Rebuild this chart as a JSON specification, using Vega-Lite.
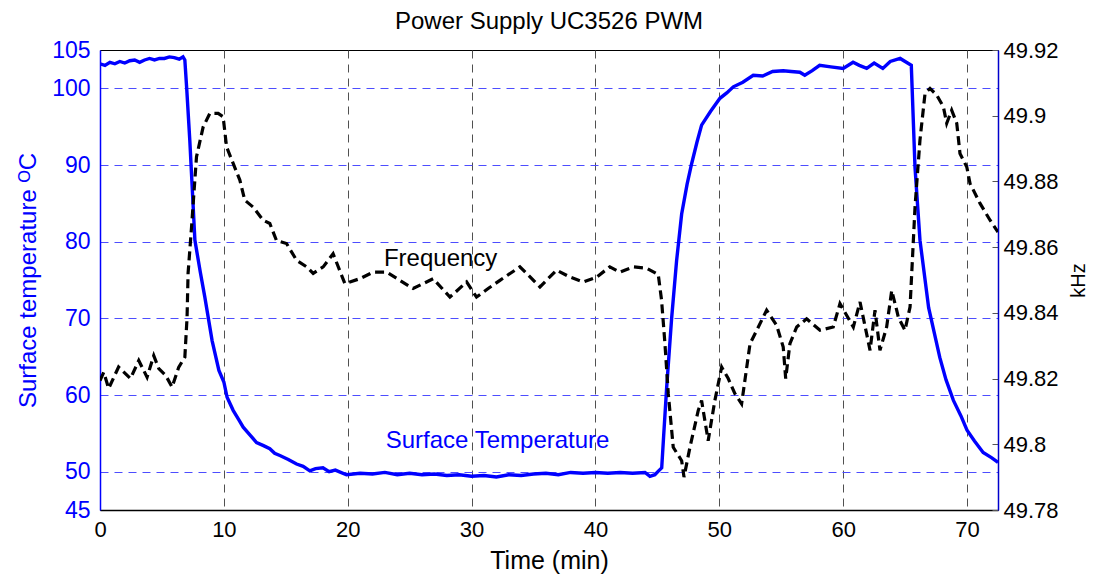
{
  "$schema": "https://vega.github.io/schema/vega-lite/v6.json",
  "width": 898,
  "height": 460,
  "autosize": "none",
  "padding": {"left": 100, "top": 50, "right": 95, "bottom": 65},
  "background": "white",
  "title": {"text": "Power Supply UC3526 PWM", "fontSize": 24, "fontWeight": "normal", "font": "Liberation Sans", "color": "black", "offset": 5, "anchor": "middle"},
  "datasets": {
    "temp": [
      {"t": 0, "T": 103.2}, {"t": 0.4, "T": 103.0}, {"t": 0.8, "T": 103.4}, {"t": 1.2, "T": 103.2}, {"t": 1.6, "T": 103.5},
      {"t": 2.0, "T": 103.3}, {"t": 2.4, "T": 103.6}, {"t": 2.8, "T": 103.7}, {"t": 3.2, "T": 103.4}, {"t": 3.6, "T": 103.7},
      {"t": 4.0, "T": 103.9}, {"t": 4.4, "T": 103.7}, {"t": 4.8, "T": 103.9}, {"t": 5.2, "T": 103.9}, {"t": 5.6, "T": 104.1},
      {"t": 6.0, "T": 104.0}, {"t": 6.4, "T": 103.8}, {"t": 6.7, "T": 104.1}, {"t": 6.85, "T": 103.7}, {"t": 7.0, "T": 100.0},
      {"t": 7.25, "T": 93.2}, {"t": 7.66, "T": 80.2}, {"t": 8.1, "T": 76.0}, {"t": 8.46, "T": 72.8}, {"t": 9.05, "T": 67.1},
      {"t": 9.6, "T": 63.2}, {"t": 10.0, "T": 61.7}, {"t": 10.26, "T": 59.7}, {"t": 10.75, "T": 58.0}, {"t": 11.2, "T": 56.8},
      {"t": 11.56, "T": 55.8}, {"t": 12.1, "T": 54.8}, {"t": 12.64, "T": 53.8}, {"t": 13.2, "T": 53.4}, {"t": 13.71, "T": 53.0},
      {"t": 14.1, "T": 52.4}, {"t": 14.52, "T": 52.1}, {"t": 15.2, "T": 51.6}, {"t": 15.87, "T": 51.0}, {"t": 16.4, "T": 50.7},
      {"t": 16.94, "T": 50.1}, {"t": 17.4, "T": 50.4}, {"t": 18.0, "T": 50.5}, {"t": 18.5, "T": 50.0}, {"t": 19.0, "T": 50.2},
      {"t": 19.9, "T": 49.6}, {"t": 21, "T": 49.8}, {"t": 22, "T": 49.7}, {"t": 23, "T": 49.9}, {"t": 24, "T": 49.6},
      {"t": 25, "T": 49.8}, {"t": 26, "T": 49.6}, {"t": 27, "T": 49.7}, {"t": 28, "T": 49.5}, {"t": 29, "T": 49.6},
      {"t": 30, "T": 49.4}, {"t": 31, "T": 49.5}, {"t": 32, "T": 49.3}, {"t": 33, "T": 49.6}, {"t": 34, "T": 49.5},
      {"t": 35, "T": 49.7}, {"t": 36, "T": 49.8}, {"t": 37, "T": 49.6}, {"t": 38, "T": 49.9}, {"t": 39, "T": 49.8},
      {"t": 40, "T": 49.9}, {"t": 41, "T": 49.8}, {"t": 42, "T": 49.9}, {"t": 43, "T": 49.8}, {"t": 44, "T": 49.9},
      {"t": 44.4, "T": 49.4}, {"t": 44.8, "T": 49.6}, {"t": 45.1, "T": 50.1}, {"t": 45.35, "T": 50.5}, {"t": 45.5, "T": 54.5},
      {"t": 45.75, "T": 61.0}, {"t": 46.15, "T": 70.0}, {"t": 46.55, "T": 77.5}, {"t": 46.96, "T": 83.6}, {"t": 47.4, "T": 87.5},
      {"t": 47.77, "T": 90.2}, {"t": 48.2, "T": 93.0}, {"t": 48.57, "T": 95.2}, {"t": 49.3, "T": 97.0}, {"t": 50.05, "T": 98.7},
      {"t": 50.6, "T": 99.4}, {"t": 51.13, "T": 100.2}, {"t": 51.9, "T": 100.8}, {"t": 52.74, "T": 101.7}, {"t": 53.5, "T": 101.6},
      {"t": 54.3, "T": 102.2}, {"t": 55.16, "T": 102.3}, {"t": 55.8, "T": 102.2}, {"t": 56.5, "T": 102.1}, {"t": 56.9, "T": 101.7},
      {"t": 57.5, "T": 102.3}, {"t": 58.1, "T": 103.0}, {"t": 59.0, "T": 102.8}, {"t": 60.0, "T": 102.6}, {"t": 60.8, "T": 103.4},
      {"t": 61.3, "T": 103.0}, {"t": 61.9, "T": 102.6}, {"t": 62.5, "T": 103.3}, {"t": 63.2, "T": 102.6}, {"t": 63.8, "T": 103.5},
      {"t": 64.6, "T": 103.9}, {"t": 65.1, "T": 103.4}, {"t": 65.5, "T": 103.0}, {"t": 65.8, "T": 89.7}, {"t": 66.2, "T": 80.2},
      {"t": 66.9, "T": 71.4}, {"t": 67.8, "T": 64.9}, {"t": 68.3, "T": 62.0}, {"t": 68.9, "T": 59.3}, {"t": 69.5, "T": 57.3},
      {"t": 70.0, "T": 55.4}, {"t": 70.6, "T": 54.0}, {"t": 71.3, "T": 52.5}, {"t": 72.0, "T": 51.8}, {"t": 72.5, "T": 51.2}
    ],
    "freq": [
      {"t": 0, "F": 49.8194}, {"t": 0.3, "F": 49.8219}, {"t": 0.7, "F": 49.817}, {"t": 1.5, "F": 49.8235}, {"t": 2.46, "F": 49.82},
      {"t": 3.13, "F": 49.8255}, {"t": 3.8, "F": 49.8204}, {"t": 4.34, "F": 49.827}, {"t": 4.75, "F": 49.823}, {"t": 5.3, "F": 49.821},
      {"t": 5.82, "F": 49.8174}, {"t": 6.36, "F": 49.8235}, {"t": 6.85, "F": 49.8265}, {"t": 7.03, "F": 49.8387}, {"t": 7.11, "F": 49.852},
      {"t": 7.39, "F": 49.8661}, {"t": 7.79, "F": 49.8875}, {"t": 8.33, "F": 49.8966}, {"t": 8.87, "F": 49.9007}, {"t": 9.54, "F": 49.9007},
      {"t": 9.94, "F": 49.8997}, {"t": 10.22, "F": 49.8905}, {"t": 10.75, "F": 49.8855}, {"t": 11.29, "F": 49.8804}, {"t": 11.69, "F": 49.8743},
      {"t": 12.36, "F": 49.8722}, {"t": 13.17, "F": 49.8682}, {"t": 13.71, "F": 49.8672}, {"t": 14.25, "F": 49.862}, {"t": 15.06, "F": 49.8611},
      {"t": 15.87, "F": 49.856}, {"t": 16.68, "F": 49.854}, {"t": 17.21, "F": 49.852}, {"t": 18.02, "F": 49.854}, {"t": 18.82, "F": 49.858},
      {"t": 19.77, "F": 49.8489}, {"t": 20.98, "F": 49.8504}, {"t": 22.05, "F": 49.8524}, {"t": 23.14, "F": 49.8524}, {"t": 24.21, "F": 49.8499},
      {"t": 25.28, "F": 49.8474}, {"t": 26.9, "F": 49.8504}, {"t": 28.25, "F": 49.8448}, {"t": 29.6, "F": 49.8494}, {"t": 30.4, "F": 49.8448},
      {"t": 31.34, "F": 49.8474}, {"t": 32.29, "F": 49.8499}, {"t": 33.9, "F": 49.854}, {"t": 34.44, "F": 49.852}, {"t": 35.52, "F": 49.8479},
      {"t": 36.86, "F": 49.853}, {"t": 37.94, "F": 49.8509}, {"t": 39.01, "F": 49.8494}, {"t": 40.1, "F": 49.8509}, {"t": 41.16, "F": 49.854},
      {"t": 41.97, "F": 49.8524}, {"t": 43.05, "F": 49.854}, {"t": 44.13, "F": 49.8536}, {"t": 45.07, "F": 49.8517}, {"t": 45.34, "F": 49.8438},
      {"t": 45.61, "F": 49.8306}, {"t": 45.88, "F": 49.8154}, {"t": 46.28, "F": 49.7991}, {"t": 46.96, "F": 49.795}, {"t": 47.15, "F": 49.79},
      {"t": 47.63, "F": 49.7991}, {"t": 48.3, "F": 49.8103}, {"t": 48.57, "F": 49.8133}, {"t": 49.1, "F": 49.8011}, {"t": 49.64, "F": 49.8133},
      {"t": 50.19, "F": 49.8235}, {"t": 50.72, "F": 49.82}, {"t": 51.26, "F": 49.8154}, {"t": 51.8, "F": 49.8123}, {"t": 52.48, "F": 49.8306},
      {"t": 53.02, "F": 49.8347}, {"t": 53.82, "F": 49.8408}, {"t": 54.63, "F": 49.8362}, {"t": 55.16, "F": 49.8296}, {"t": 55.36, "F": 49.82},
      {"t": 55.7, "F": 49.8306}, {"t": 56.25, "F": 49.8357}, {"t": 57.05, "F": 49.8382}, {"t": 58.13, "F": 49.8347}, {"t": 59.2, "F": 49.8357},
      {"t": 59.74, "F": 49.8428}, {"t": 60.82, "F": 49.8357}, {"t": 61.36, "F": 49.8433}, {"t": 62.17, "F": 49.8286}, {"t": 62.57, "F": 49.8408},
      {"t": 62.97, "F": 49.8286}, {"t": 63.51, "F": 49.8357}, {"t": 63.92, "F": 49.8468}, {"t": 64.32, "F": 49.8408}, {"t": 64.45, "F": 49.8387},
      {"t": 64.99, "F": 49.8347}, {"t": 65.4, "F": 49.8418}, {"t": 65.8, "F": 49.8722}, {"t": 66.2, "F": 49.8926}, {"t": 66.61, "F": 49.9068},
      {"t": 67.01, "F": 49.9083}, {"t": 67.55, "F": 49.9063}, {"t": 68.09, "F": 49.9027}, {"t": 68.36, "F": 49.8977}, {"t": 68.76, "F": 49.9017},
      {"t": 69.17, "F": 49.8977}, {"t": 69.43, "F": 49.8885}, {"t": 69.98, "F": 49.8844}, {"t": 70.24, "F": 49.8794}, {"t": 71.05, "F": 49.8733},
      {"t": 71.86, "F": 49.8682}, {"t": 72.5, "F": 49.8646}
    ]
  },
  "layer": [
    {
      "layer": [
        {
          "data": {"name": "temp"},
          "mark": {"type": "line", "color": "#0000ff", "strokeWidth": 3.4, "clip": true},
          "encoding": {
            "x": {
              "field": "t", "type": "quantitative", "title": "Time (min)",
              "scale": {"domain": [0, 72.5], "nice": false, "zero": false},
              "axis": {
                "values": [0, 10, 20, 30, 40, 50, 60, 70], "labelFontSize": 22, "titleFontSize": 25, "titleFontWeight": "normal",
                "labelColor": "black", "titleColor": "black", "domainColor": "black", "ticks": false, "labelPadding": 9, "titlePadding": 8,
                "labelFlush": false, "labelOverlap": false, "grid": true, "gridDash": [8, 6], "gridWidth": 1,
                "gridColor": {"condition": {"test": "datum.value == 0", "value": "transparent"}, "value": "#505050"}
              }
            },
            "y": {
              "field": "T", "type": "quantitative", "title": "Surface temperature ᴼC",
              "scale": {"domain": [45, 105], "nice": false, "zero": false},
              "axis": {
                "orient": "left", "values": [45, 50, 60, 70, 80, 90, 100, 105], "labelFontSize": 23, "titleFontSize": 24, "titleFontWeight": "normal",
                "labelColor": "#0000ff", "titleColor": "#0000ff", "domainColor": "#0000ff", "ticks": false, "labelPadding": 10, "titlePadding": 11,
                "labelFlush": false, "labelOverlap": false, "grid": true, "gridDash": [8, 6], "gridWidth": 1,
                "gridColor": {"condition": {"test": "datum.value == 45 || datum.value == 105", "value": "transparent"}, "value": "#4d4dff"}
              }
            }
          }
        },
        {
          "data": {"values": [{"t": 27.5, "T": 77.8, "label": "Frequency"}]},
          "mark": {"type": "text", "fontSize": 24, "color": "black", "align": "center", "baseline": "middle"},
          "encoding": {
            "x": {"field": "t", "type": "quantitative", "title": "Time (min)"},
            "y": {"field": "T", "type": "quantitative", "title": "Surface temperature ᴼC"},
            "text": {"field": "label"}
          }
        },
        {
          "data": {"values": [{"t": 32.1, "T": 54.0, "label": "Surface Temperature"}]},
          "mark": {"type": "text", "fontSize": 24, "color": "#0000ff", "align": "center", "baseline": "middle"},
          "encoding": {
            "x": {"field": "t", "type": "quantitative", "title": "Time (min)"},
            "y": {"field": "T", "type": "quantitative", "title": "Surface temperature ᴼC"},
            "text": {"field": "label"}
          }
        }
      ]
    },
    {
      "data": {"name": "freq"},
      "mark": {"type": "line", "color": "black", "strokeWidth": 3.2, "strokeDash": [9, 5], "clip": true},
      "encoding": {
        "x": {"field": "t", "type": "quantitative", "title": "Time (min)"},
        "y": {
          "field": "F", "type": "quantitative", "title": "kHz",
          "scale": {"domain": [49.78, 49.92], "nice": false, "zero": false},
          "axis": {
            "orient": "right", "values": [49.78, 49.8, 49.82, 49.84, 49.86, 49.88, 49.9, 49.92], "format": ".2~f",
            "labelFontSize": 22, "titleFontSize": 20, "titleFontWeight": "normal", "titleAngle": 270,
            "labelColor": "black", "titleColor": "black", "domainColor": "#0000cc", "ticks": true, "tickSize": -6, "tickColor": "#555555",
            "labelPadding": 11, "titlePadding": 30, "labelFlush": false, "labelOverlap": false, "grid": false
          }
        }
      }
    }
  ],
  "resolve": {"scale": {"y": "independent"}},
  "config": {
    "font": "Liberation Sans",
    "view": {"stroke": "black", "strokeWidth": 1},
    "axis": {"labelFont": "Liberation Sans", "titleFont": "Liberation Sans", "domainWidth": 1.5}
  }
}
